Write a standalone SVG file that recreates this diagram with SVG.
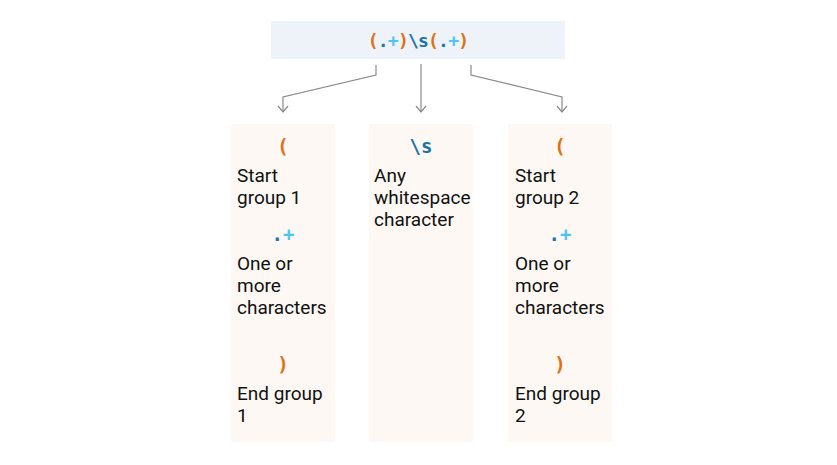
<svg xmlns="http://www.w3.org/2000/svg" width="837" height="465" viewBox="0 0 837 465">
<defs>
<style>
.bg{fill:#ffffff}
.top{fill:#eef3f9}
.col{fill:#fdf8f4}
.code{font-family:"DejaVu Sans Mono","Liberation Mono",monospace;font-weight:bold}
.txt{font-family:Roboto,"Liberation Sans",sans-serif;font-size:19px;fill:#111111}
.o{fill:#e0700f}
.d{fill:#1a73b0}
.l{fill:#4fc3f7}
.conn{fill:none;stroke:#8a8a8a;stroke-width:1.2}
</style>
<marker id="arr" viewBox="0 0 8 12" refX="7" refY="6" markerWidth="8" markerHeight="12" markerUnits="userSpaceOnUse" orient="auto">
<path d="M1,1 L7,6 L1,11" fill="none" stroke="#8a8a8a" stroke-width="1.2"/>
</marker>
</defs>
<rect class="bg" x="0" y="0" width="837" height="465"/>
<g id="header">
<rect class="top" x="271" y="21" width="294" height="38"/>
<text class="code" x="418" y="47" font-size="18" text-anchor="middle" letter-spacing="-0.8"><tspan class="o">(</tspan><tspan class="d">.</tspan><tspan class="l">+</tspan><tspan class="o">)</tspan><tspan class="d">\s</tspan><tspan class="o">(</tspan><tspan class="d">.</tspan><tspan class="l">+</tspan><tspan class="o">)</tspan></text>
</g>
<g id="connectors">
<path class="conn" d="M376,65 V75 L283,97 V112" marker-end="url(#arr)"/>
<path class="conn" d="M421,64 V112" marker-end="url(#arr)"/>
<path class="conn" d="M471,65 V75 L562,97 V112" marker-end="url(#arr)"/>
</g>
<g id="group1">
<rect class="col" x="231" y="124" width="104" height="318"/>
<text class="code o" x="283" y="153" font-size="19" text-anchor="middle">(</text>
<text class="txt" x="237" y="182">Start</text>
<text class="txt" x="237" y="204">group 1</text>
<text class="code" x="283" y="241" font-size="19" text-anchor="middle"><tspan class="d">.</tspan><tspan class="l">+</tspan></text>
<text class="txt" x="237" y="270">One or</text>
<text class="txt" x="237" y="292">more</text>
<text class="txt" x="237" y="314">characters</text>
<text class="code o" x="283" y="371" font-size="19" text-anchor="middle">)</text>
<text class="txt" x="237" y="400">End group</text>
<text class="txt" x="237" y="422">1</text>
</g>
<g id="whitespace">
<rect class="col" x="369" y="124" width="104" height="318"/>
<text class="code d" x="421" y="153" font-size="19" text-anchor="middle">\s</text>
<text class="txt" x="374" y="182">Any</text>
<text class="txt" x="374" y="204">whitespace</text>
<text class="txt" x="374" y="226">character</text>
</g>
<g id="group2">
<rect class="col" x="508" y="124" width="104" height="318"/>
<text class="code o" x="560" y="153" font-size="19" text-anchor="middle">(</text>
<text class="txt" x="515" y="182">Start</text>
<text class="txt" x="515" y="204">group 2</text>
<text class="code" x="560" y="241" font-size="19" text-anchor="middle"><tspan class="d">.</tspan><tspan class="l">+</tspan></text>
<text class="txt" x="515" y="270">One or</text>
<text class="txt" x="515" y="292">more</text>
<text class="txt" x="515" y="314">characters</text>
<text class="code o" x="560" y="371" font-size="19" text-anchor="middle">)</text>
<text class="txt" x="515" y="400">End group</text>
<text class="txt" x="515" y="422">2</text>
</g>
</svg>
